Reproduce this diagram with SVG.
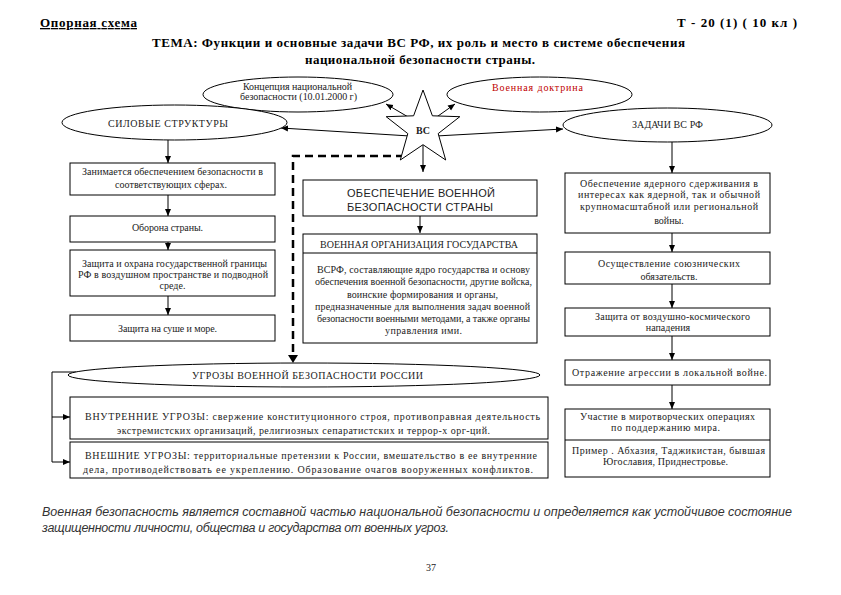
<svg xmlns="http://www.w3.org/2000/svg" width="841" height="595" viewBox="0 0 841 595">
<defs>
<marker id="ah" markerWidth="8" markerHeight="8" refX="7" refY="4" orient="auto" markerUnits="userSpaceOnUse"><path d="M0,1 L7,4 L0,7 z" fill="#000"/></marker>
<style>
.bg{fill:#fff}
.box{fill:#fff;stroke:#000;stroke-width:1}
.ell{fill:#fff;stroke:#000;stroke-width:1}
.conn{stroke:#000;stroke-width:1;fill:none;marker-end:url(#ah)}
.dash{stroke:#000;stroke-width:2.5;fill:none;stroke-dasharray:8 5}
.t{font-family:"Liberation Serif","Times New Roman",serif;font-size:10px;fill:#222;text-anchor:middle}
.s{font-family:"Liberation Sans",Arial,sans-serif;font-size:11px;fill:#222;text-anchor:middle}
.h{font-family:"Liberation Serif","Times New Roman",serif;font-size:13px;font-weight:bold;fill:#000}
.f{font-family:"Liberation Sans",Arial,sans-serif;font-size:12.5px;font-style:italic;fill:#333}
</style>
</defs>
<rect class="bg" x="0" y="0" width="841" height="595"/>

<g id="header">
<text class="h" x="40" y="27" font-size="12" text-decoration="underline" textLength="97">Опорная схема</text>
<text class="h" x="677" y="27" font-size="12" textLength="120">Т - 20 (1) ( 10 кл )</text>
<text class="h" x="418.5" y="47" text-anchor="middle" textLength="533">ТЕМА:  Функции и основные задачи ВС РФ, их роль и место в системе обеспечения</text>
<text class="h" x="420" y="64" text-anchor="middle" textLength="230">национальной безопасности страны.</text>
</g>

<g id="connectors">
<line class="conn" x1="415" y1="121" x2="386" y2="104"/>
<line class="conn" x1="431" y1="121" x2="455" y2="104"/>
<line class="conn" x1="410" y1="136" x2="281" y2="128"/>
<line class="conn" x1="436" y1="136" x2="563" y2="129"/>
<line class="conn" x1="423" y1="140" x2="423" y2="172"/>
<path class="dash" d="M404,156 H293 V356"/>
<path d="M288,355 L293,363 L298,355 z" fill="#000"/>
<line class="conn" x1="168" y1="140" x2="168" y2="163"/>
<line class="conn" x1="168" y1="195" x2="168" y2="216"/>
<line class="conn" x1="168" y1="242" x2="168" y2="250"/>
<line class="conn" x1="168" y1="296" x2="168" y2="315"/>
<line class="conn" x1="420" y1="216" x2="420" y2="233"/>
<line class="conn" x1="672" y1="142" x2="672" y2="173"/>
<line class="conn" x1="672" y1="233" x2="672" y2="252"/>
<line class="conn" x1="672" y1="284" x2="672" y2="308"/>
<line class="conn" x1="672" y1="336" x2="672" y2="360"/>
<line class="conn" x1="672" y1="385" x2="672" y2="409"/>
<path d="M76,372 H52 V462" stroke="#000" stroke-width="1" fill="none"/>
<line class="conn" x1="52" y1="417" x2="70" y2="417"/>
<line class="conn" x1="52" y1="462" x2="70" y2="462"/>
</g>

<g id="concept">
<ellipse class="ell" cx="298" cy="94.5" rx="95" ry="17.5"/>
<text class="t" x="297.5" y="90" font-size="9" textLength="109">Концепция национальной</text>
<text class="t" x="298.5" y="99.5" font-size="9" textLength="117">безопасности (10.01.2000 г)</text>
</g>

<g id="doctrine">
<ellipse class="ell" cx="539.5" cy="94.5" rx="92.5" ry="17.5"/>
<text class="t" x="537.5" y="90.5" font-size="11" style="fill:#c00000" textLength="91">Военная доктрина</text>
</g>

<g id="silovye">
<ellipse class="ell" cx="174.5" cy="122.5" rx="112.5" ry="17.5"/>
<text class="t" x="168" y="126.5" textLength="120">СИЛОВЫЕ СТРУКТУРЫ</text>
</g>

<g id="zadachi">
<ellipse class="ell" cx="667.5" cy="125" rx="104.5" ry="17"/>
<text class="t" x="667.5" y="128" textLength="71">ЗАДАЧИ ВС РФ</text>
</g>

<g id="vs">
<polygon class="box" points="423,90 432.4,115.8 459.8,116.7 438.2,133.6 445.7,160 423,144.7 400.3,160 407.8,133.6 386.2,116.7 413.6,115.8"/>
<text class="t" x="423" y="134" font-size="11" font-weight="bold">ВС</text>
</g>

<g id="left1">
<rect class="box" x="70" y="163" width="205" height="32"/>
<text class="t" x="172.5" y="174.5" textLength="181">Занимается обеспечением безопасности в</text>
<text class="t" x="171" y="188" textLength="112">соответствующих сферах.</text>
</g>
<g id="left2">
<rect class="box" x="70" y="216" width="205" height="26"/>
<text class="t" x="167.5" y="230.5" textLength="71">Оборона страны.</text>
</g>
<g id="left3">
<rect class="box" x="70" y="250" width="205" height="46"/>
<text class="t" x="174.5" y="266.5" textLength="185">Защита и охрана государственной границы</text>
<text class="t" x="173" y="277.5" textLength="190">РФ  в воздушном пространстве и подводной</text>
<text class="t" x="172.5" y="289">среде.</text>
</g>
<g id="left4">
<rect class="box" x="70" y="315" width="205" height="26"/>
<text class="t" x="167.5" y="331.5" textLength="99">Защита на суше и море.</text>
</g>

<g id="center1">
<rect class="box" x="303" y="180" width="234" height="36"/>
<text class="s" x="421" y="197" textLength="148">ОБЕСПЕЧЕНИЕ ВОЕННОЙ</text>
<text class="s" x="420" y="210.5" textLength="146">БЕЗОПАСНОСТИ СТРАНЫ</text>
</g>
<g id="center2">
<rect class="box" x="303" y="234" width="234" height="109"/>
<line x1="303" y1="253" x2="537" y2="253" stroke="#000" stroke-width="1"/>
<text class="t" x="419" y="248" textLength="198">ВОЕННАЯ ОРГАНИЗАЦИЯ ГОСУДАРСТВА</text>
<text class="t" x="423.5" y="273" textLength="213">ВСРФ, составляющие ядро государства и основу</text>
<text class="t" x="423.5" y="285" textLength="217">обеспечения военной безопасности, другие войска,</text>
<text class="t" x="422.5" y="297.5" textLength="151">воинские формирования и органы,</text>
<text class="t" x="422.5" y="309.5" textLength="215">предназначенные  для выполнения задач военной</text>
<text class="t" x="423.5" y="322" textLength="213">безопасности военными методами, а также органы</text>
<text class="t" x="423.5" y="333.5" textLength="77">управления ими.</text>
</g>

<g id="right1">
<rect class="box" x="565" y="173" width="205" height="60"/>
<text class="t" x="669" y="187" textLength="178">Обеспечение ядерного сдерживания в</text>
<text class="t" x="669" y="198" textLength="182">интересах как ядерной, так и обычной</text>
<text class="t" x="669" y="209.5" textLength="178">крупномасштабной или региональной</text>
<text class="t" x="669" y="223.5">войны.</text>
</g>
<g id="right2">
<rect class="box" x="565" y="252" width="205" height="32"/>
<text class="t" x="669" y="267" textLength="142">Осуществление союзнических</text>
<text class="t" x="669" y="279.5">обязательств.</text>
</g>
<g id="right3">
<rect class="box" x="565" y="308" width="205" height="28"/>
<text class="t" x="672.5" y="319.5" textLength="155">Защита от воздушно-космического</text>
<text class="t" x="668" y="331">нападения</text>
</g>
<g id="right4">
<rect class="box" x="565" y="360" width="205" height="25"/>
<text class="t" x="669.5" y="376" textLength="195">Отражение агрессии в локальной войне.</text>
</g>
<g id="right5">
<rect class="box" x="565" y="409" width="205" height="68"/>
<line x1="565" y1="440" x2="770" y2="440" stroke="#000" stroke-width="1"/>
<text class="t" x="667.5" y="419.5" textLength="175">Участие в миротворческих операциях</text>
<text class="t" x="665.5" y="431" textLength="109">по поддержанию мира.</text>
<text class="t" x="668.5" y="453.5" textLength="193">Пример . Абхазия, Таджикистан, бывшая</text>
<text class="t" x="665.5" y="465" textLength="125">Югославия, Приднестровье.</text>
</g>

<g id="ugrozy">
<ellipse class="ell" cx="304" cy="375" rx="236" ry="12"/>
<text class="t" x="307.5" y="378.5" textLength="231">УГРОЗЫ ВОЕННОЙ БЕЗОПАСНОСТИ РОССИИ</text>
</g>
<g id="vnutr">
<rect class="box" x="70" y="397" width="478" height="42"/>
<text class="t" x="312.5" y="419.5" textLength="455">ВНУТРЕННИЕ УГРОЗЫ: свержение конституционного строя, противоправная деятельность</text>
<text class="t" x="303.5" y="433.5" textLength="373">экстремистских организаций, религиозных сепаратистских и террор-х орг-ций.</text>
</g>
<g id="vnesh">
<rect class="box" x="70" y="442" width="478" height="36"/>
<text class="t" x="311" y="458.5" textLength="452">ВНЕШНИЕ УГРОЗЫ: территориальные претензии к России, вмешательство в ее внутренние</text>
<text class="t" x="308" y="472.5" textLength="450">дела, противодействовать ее укреплению. Образование очагов вооруженных конфликтов.</text>
</g>

<g id="footer">
<text class="f" x="42" y="516" textLength="750">Военная безопасность является составной частью национальной безопасности и определяется как устойчивое состояние</text>
<text class="f" x="42" y="532" textLength="407">защищенности личности, общества и государства от военных угроз.</text>
<text class="t" x="431" y="571" font-size="12">37</text>
</g>
</svg>
